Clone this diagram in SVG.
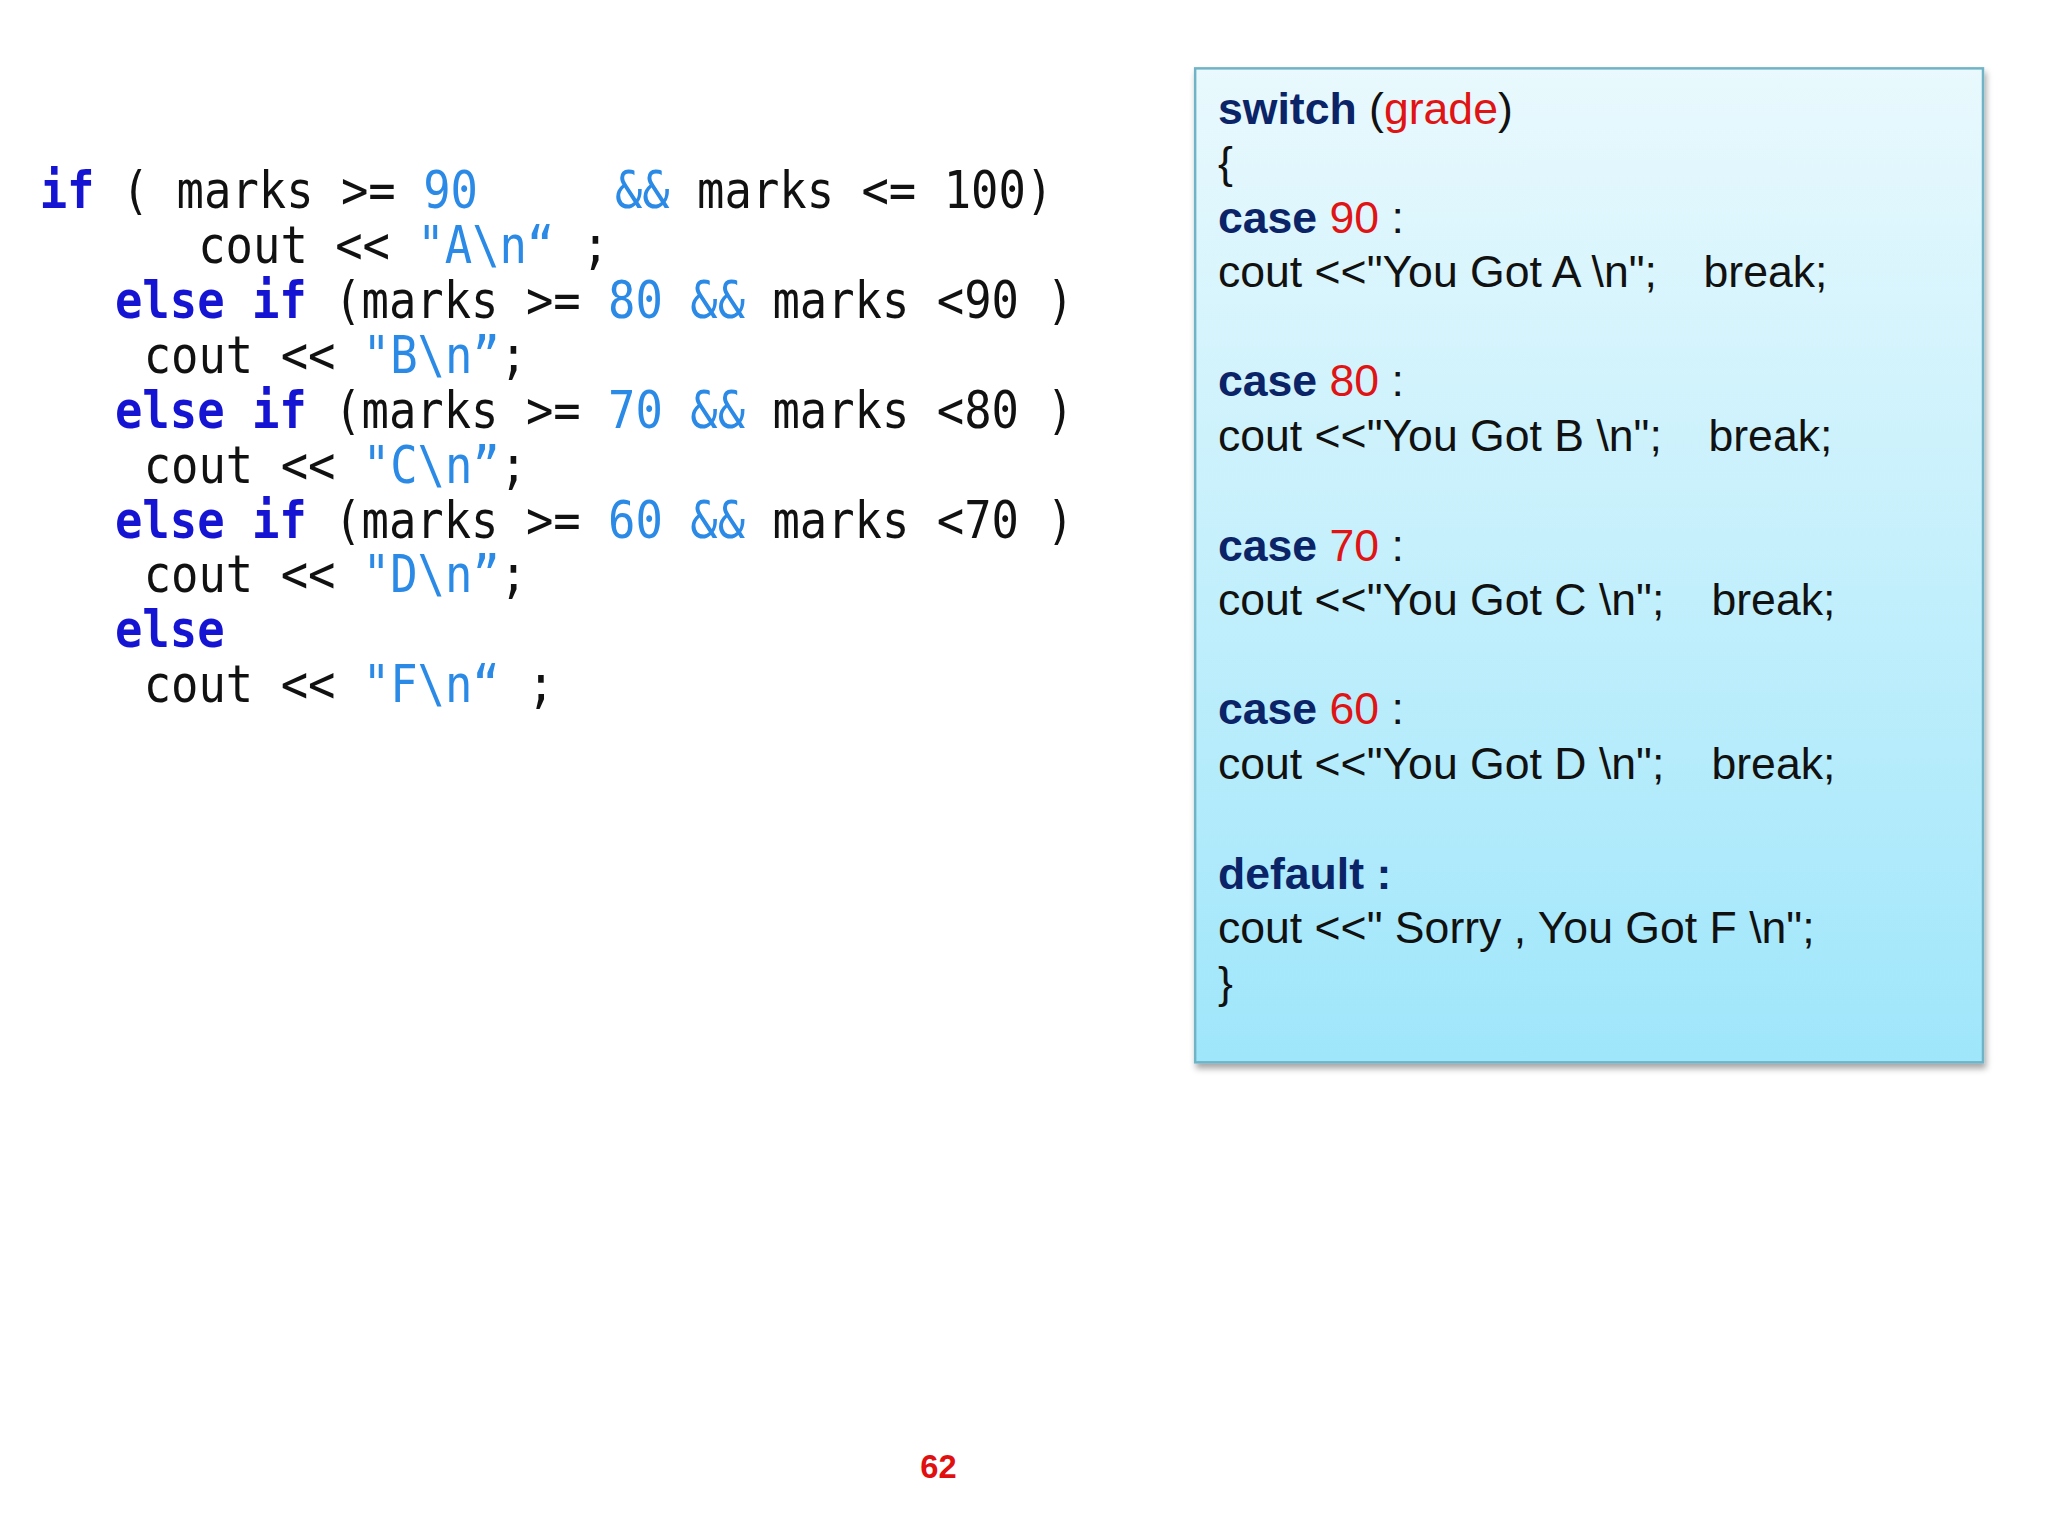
<svg xmlns="http://www.w3.org/2000/svg" width="2048" height="1536" viewBox="0 0 2048 1536">
<defs>
<linearGradient id="bg" x1="0" y1="0" x2="0" y2="1"><stop offset="0" stop-color="#e9f9fd"/><stop offset="1" stop-color="#9fe6fb"/></linearGradient>
<filter id="sh" x="-5%" y="-5%" width="110%" height="110%"><feDropShadow dx="2" dy="5" stdDeviation="3" flood-color="#000" flood-opacity="0.35"/></filter>
</defs>
<style>
.m{font-family:"DejaVu Sans Mono",monospace;font-size:52px;fill:#111;white-space:pre}
.k{fill:#1414d2;font-weight:bold}
.n{fill:#2a8ae6}
.s{font-family:"Liberation Sans",Arial,sans-serif;font-size:45px;fill:#111}
.b{fill:#0b2468;font-weight:bold}
.r{fill:#e01414}
</style>
<rect width="2048" height="1536" fill="#fff"/>
<g transform="scale(0.991)">
<g id="ifcode" transform="scale(0.883,1)">
<text class="m" x="45.3" y="210"><tspan class="k">if</tspan> ( marks &gt;= <tspan class="n">90</tspan>     <tspan class="n">&amp;&amp;</tspan> marks &lt;= 100)</text>
<text class="m" x="226.5" y="265.4">cout &lt;&lt; <tspan class="n">"A\n“</tspan> ;</text>
<text class="m" x="131.4" y="320.8"><tspan class="k">else if</tspan> (marks &gt;= <tspan class="n">80</tspan> <tspan class="n">&amp;&amp;</tspan> marks &lt;90 )</text>
<text class="m" x="164.2" y="376.2">cout &lt;&lt; <tspan class="n">"B\n”</tspan>;</text>
<text class="m" x="131.4" y="431.6"><tspan class="k">else if</tspan> (marks &gt;= <tspan class="n">70</tspan> <tspan class="n">&amp;&amp;</tspan> marks &lt;80 )</text>
<text class="m" x="164.2" y="487">cout &lt;&lt; <tspan class="n">"C\n”</tspan>;</text>
<text class="m" x="131.4" y="542.4"><tspan class="k">else if</tspan> (marks &gt;= <tspan class="n">60</tspan> <tspan class="n">&amp;&amp;</tspan> marks &lt;70 )</text>
<text class="m" x="164.2" y="597.8">cout &lt;&lt; <tspan class="n">"D\n”</tspan>;</text>
<text class="m" x="131.4" y="653.2"><tspan class="k">else</tspan></text>
<text class="m" x="164.2" y="708.6">cout &lt;&lt; <tspan class="n">"F\n“</tspan> ;</text>
</g>
<g id="switchbox">
<rect x="1206" y="69" width="795" height="1003" fill="url(#bg)" stroke="#6fb3c6" stroke-width="2.5" filter="url(#sh)"/>
<text class="s" x="1229" y="125"><tspan class="b">switch</tspan> (<tspan class="r">grade</tspan>)</text>
<text class="s" x="1229" y="180">{</text>
<text class="s" x="1229" y="235"><tspan class="b">case</tspan> <tspan class="r">90</tspan> :</text>
<text class="s" x="1229" y="290">cout &lt;&lt;"You Got A \n";<tspan x="1719">break;</tspan></text>
<text class="s" x="1229" y="400"><tspan class="b">case</tspan> <tspan class="r">80</tspan> :</text>
<text class="s" x="1229" y="455">cout &lt;&lt;"You Got B \n";<tspan x="1724">break;</tspan></text>
<text class="s" x="1229" y="566"><tspan class="b">case</tspan> <tspan class="r">70</tspan> :</text>
<text class="s" x="1229" y="621">cout &lt;&lt;"You Got C \n";<tspan x="1727">break;</tspan></text>
<text class="s" x="1229" y="731"><tspan class="b">case</tspan> <tspan class="r">60</tspan> :</text>
<text class="s" x="1229" y="786">cout &lt;&lt;"You Got D \n";<tspan x="1727">break;</tspan></text>
<text class="s" x="1229" y="897"><tspan class="b">default :</tspan></text>
<text class="s" x="1229" y="952">cout &lt;&lt;" Sorry , You Got F \n";</text>
<text class="s" x="1229" y="1007">}</text>
</g>
<text x="947" y="1491" text-anchor="middle" font-family="Liberation Sans,Arial,sans-serif" font-weight="bold" font-size="33" fill="#e01010">62</text>
</g>
</svg>
